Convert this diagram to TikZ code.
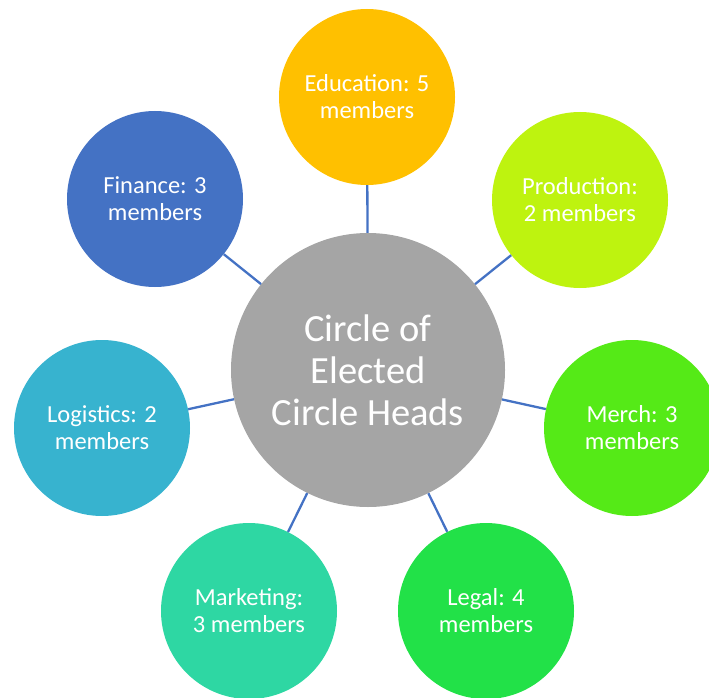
\documentclass[tikz,border=0pt]{standalone}
\usepackage{fontspec}
\setmainfont{Carlito}
\definecolor{hubgray}{HTML}{A5A5A5}
\definecolor{linkblue}{HTML}{4472C4}
\definecolor{eduorange}{HTML}{FFC000}
\definecolor{prodlime}{HTML}{BEF30F}
\definecolor{merchgreen}{HTML}{55EA17}
\definecolor{legalgreen}{HTML}{22E148}
\definecolor{mktteal}{HTML}{2ED7A3}
\definecolor{logicyan}{HTML}{37B3CF}
\definecolor{finblue}{HTML}{4472C4}
\tikzset{
  team/.style={circle, minimum size=176pt, inner sep=0pt, text=white, align=center,
    font=\fontsize{24.5}{27}\selectfont},
  hub/.style={circle, fill=hubgray, minimum size=274pt, inner sep=0pt, text=white,
    align=center, font=\fontsize{38.5}{42}\selectfont},
  link/.style={draw=linkblue, line width=2.3pt}
}

\begin{document}
\begin{tikzpicture}[x=1pt, y=-1pt]
  \useasboundingbox (0,0) rectangle (709,698);

  \node[hub] (heads) at (368,370) {Circle of\\Elected\\Circle Heads};

  \node[team, fill=eduorange] (edu) at (367,97) {Education: 5\\members};
  \node[team, fill=prodlime] (prod) at (580,200) {Production:\\2 members};
  \node[team, fill=merchgreen] (merch) at (632,428) {Merch: 3\\members};
  \node[team, fill=legalgreen] (legal) at (486,611) {Legal: 4\\members};
  \node[team, fill=mktteal] (mkt) at (249,611) {Marketing:\\3 members};
  \node[team, fill=logicyan] (logi) at (102,428) {Logistics: 2\\members};
  \node[team, fill=finblue] (fin) at (155,199) {Finance: 3\\members};

  \draw[link] (heads) -- (edu);
  \draw[link] (heads) -- (prod);
  \draw[link] (heads) -- (merch);
  \draw[link] (heads) -- (legal);
  \draw[link] (heads) -- (mkt);
  \draw[link] (heads) -- (logi);
  \draw[link] (heads) -- (fin);
\end{tikzpicture}
\end{document}
